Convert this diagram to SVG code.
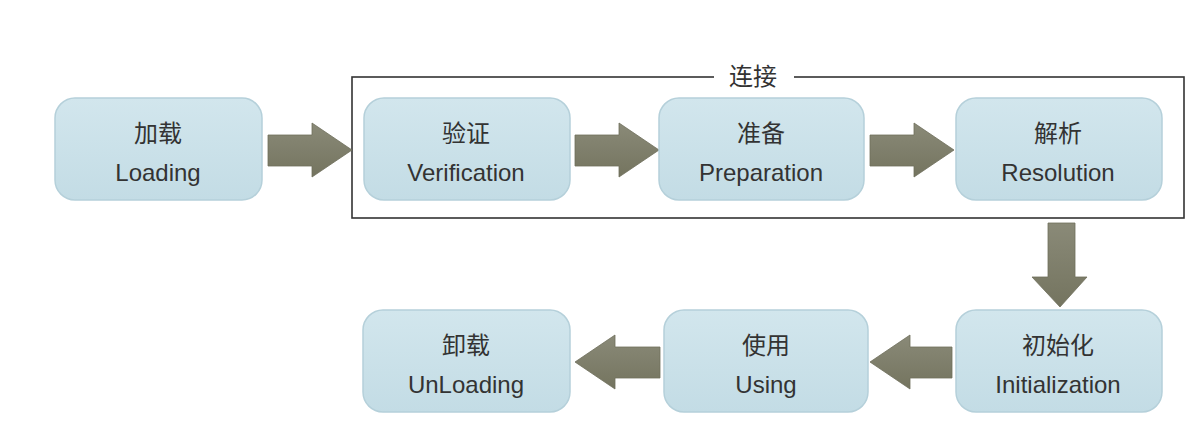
<svg xmlns="http://www.w3.org/2000/svg" width="1202" height="442" viewBox="0 0 1202 442">
<defs>
<linearGradient id="boxg" x1="0" y1="0" x2="0" y2="1">
<stop offset="0" stop-color="#d2e6ed"/>
<stop offset="1" stop-color="#c3dce5"/>
</linearGradient>
<linearGradient id="arrg" x1="0" y1="0" x2="0" y2="1">
<stop offset="0" stop-color="#8a8a78"/>
<stop offset="1" stop-color="#74745f"/>
</linearGradient>
</defs>
<style>
.box{fill:url(#boxg);stroke:#b5d0da;stroke-width:1.5}
.t{font-family:"Liberation Sans","Noto Sans CJK SC",sans-serif;font-size:24px;fill:#333;text-anchor:middle}
.arr{fill:url(#arrg);stroke:#6e6e5c;stroke-width:0.8}
</style>
<rect width="1202" height="442" fill="#ffffff"/>
<g id="container">
<rect x="352" y="77" width="832" height="141" fill="none" stroke="#333" stroke-width="1.6"/>
<rect x="714" y="64" width="80" height="24" fill="#ffffff"/>
<text class="t" x="753" y="85">连接</text>
</g>
<g id="connectors">
<path class="arr" d="M268 135 H312 V123 L352 150 L312 177 V166 H268 Z"/>
<path class="arr" d="M575 135 H619 V123 L659 150 L619 177 V166 H575 Z"/>
<path class="arr" d="M870 135 H914 V123 L954 150 L914 177 V166 H870 Z"/>
<path class="arr" d="M1048 223 H1075 V277 H1087 L1060 307 L1032 277 H1048 Z"/>
<path class="arr" d="M952 347 H910 V335 L870 362 L910 389 V378 H952 Z"/>
<path class="arr" d="M660 347 H615 V335 L575 362 L615 389 V378 H660 Z"/>
</g>
<g id="loading">
<rect class="box" x="55" y="98" width="207" height="102" rx="20"/>
<text class="t" x="158" y="142">加载</text>
<text class="t" x="158" y="181">Loading</text>
</g>
<g id="verification">
<rect class="box" x="364" y="98" width="206" height="102" rx="20"/>
<text class="t" x="466" y="142">验证</text>
<text class="t" x="466" y="181">Verification</text>
</g>
<g id="preparation">
<rect class="box" x="659" y="98" width="205" height="102" rx="20"/>
<text class="t" x="761" y="142">准备</text>
<text class="t" x="761" y="181">Preparation</text>
</g>
<g id="resolution">
<rect class="box" x="956" y="98" width="206" height="102" rx="20"/>
<text class="t" x="1058" y="142">解析</text>
<text class="t" x="1058" y="181">Resolution</text>
</g>
<g id="initialization">
<rect class="box" x="956" y="310" width="206" height="102" rx="20"/>
<text class="t" x="1058" y="354">初始化</text>
<text class="t" x="1058" y="393">Initialization</text>
</g>
<g id="using">
<rect class="box" x="664" y="310" width="204" height="102" rx="20"/>
<text class="t" x="766" y="354">使用</text>
<text class="t" x="766" y="393">Using</text>
</g>
<g id="unloading">
<rect class="box" x="363" y="310" width="207" height="102" rx="20"/>
<text class="t" x="466" y="354">卸载</text>
<text class="t" x="466" y="393">UnLoading</text>
</g>
</svg>
